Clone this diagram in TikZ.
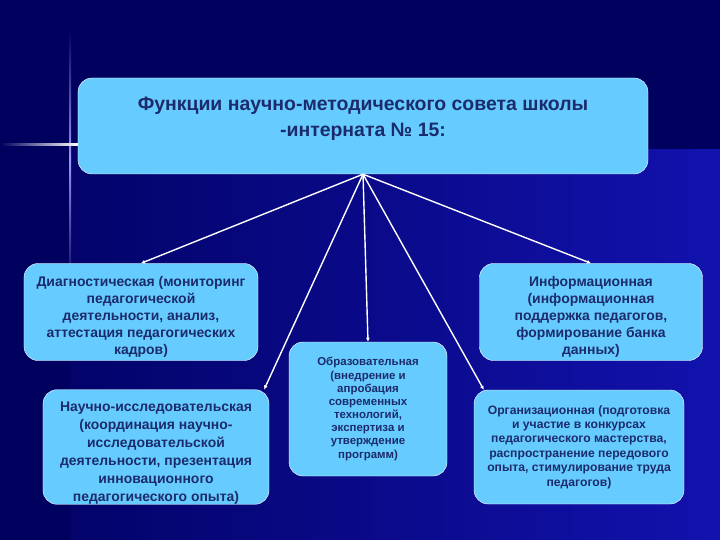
\documentclass[tikz,border=0pt]{standalone}
\usepackage{fontspec}
\setmainfont{Liberation Sans}
\usetikzlibrary{arrows.meta}

\definecolor{bgdark}{HTML}{00005E}
\definecolor{bglight}{HTML}{1212AE}
\definecolor{boxfill}{HTML}{66CCFF}
\definecolor{boxtext}{HTML}{1B2B6B}

\newcommand{\boxfont}[2]{\bfseries\fontsize{#1}{#2}\selectfont}
\newcommand{\lift}[1]{\rule{0pt}{#1}}

\begin{document}
\begin{tikzpicture}[
x=1bp, y=-1bp,
box/.style={
draw=white,
fill=boxfill,
rounded corners=14bp,
text=boxtext,
align=center,
inner sep=0pt
},
link/.style={
draw=white,
line width=1.4bp,
-{Latex[length=4bp,width=4bp]}
}
]
\useasboundingbox (0,0) rectangle (720,540);

% background
\fill[bgdark] (0,0) rectangle (720,540);
\shade[left color=bgdark!85!bglight, right color=bglight] (70,150) rectangle (720,540);
\shade[top color=bgdark, bottom color=bgdark, middle color=white!60!blue] (69,30) rectangle (71,290);
\shade[left color=bgdark, right color=white] (0,144) rectangle (78,146);

% top box
\node[box, font=\boxfont{19.5}{26}, minimum width=570bp, minimum height=96bp] (council) at (363,126)
  {Функции научно-методического совета школы\\
   -интерната № 15:\\[-8bp] \rule{0pt}{1bp}};

% functions
\node[box, font=\boxfont{14}{17}, minimum width=234bp, minimum height=97bp] (diag) at (141,312)
  {\lift{20bp}Диагностическая (мониторинг\\
   педагогической\\ деятельности, анализ,\\
   аттестация педагогических\\ кадров)};
\node[box, font=\boxfont{14}{18}, minimum width=226bp, minimum height=114bp] (research) at (156,447)
  {\lift{22bp}Научно-исследовательская\\
   (координация научно-\\ исследовательской\\
   деятельности, презентация\\ инновационного\\ педагогического опыта)};
\node[box, font=\boxfont{11.5}{13.2}, minimum width=158bp, minimum height=134bp] (educ) at (368,409)
  {Образовательная\\ (внедрение и\\ апробация\\
   современных\\ технологий,\\ экспертиза и\\ утверждение\\ программ)};
\node[box, font=\boxfont{14}{17}, minimum width=223bp, minimum height=97bp] (info) at (591,312)
  {\lift{20bp}Информационная\\ (информационная\\
   поддержка педагогов,\\ формирование банка\\ данных)};
\node[box, font=\boxfont{12.2}{14.5}, minimum width=210bp, minimum height=114bp] (org) at (579,447)
  {Организационная (подготовка\\
   и участие в конкурсах\\ педагогического мастерства,\\
   распространение передового\\ опыта, стимулирование труда\\ педагогов)};

% connectors
\coordinate (hub) at (council.south);
\draw[link] (hub) -- (diag.north);
\draw[link] (hub) -- (research.28);
\draw[link] (hub) -- (educ.north);
\draw[link] (hub) -- (info.north);
\draw[link] (hub) -- (org.149);

\end{tikzpicture}
\end{document}
